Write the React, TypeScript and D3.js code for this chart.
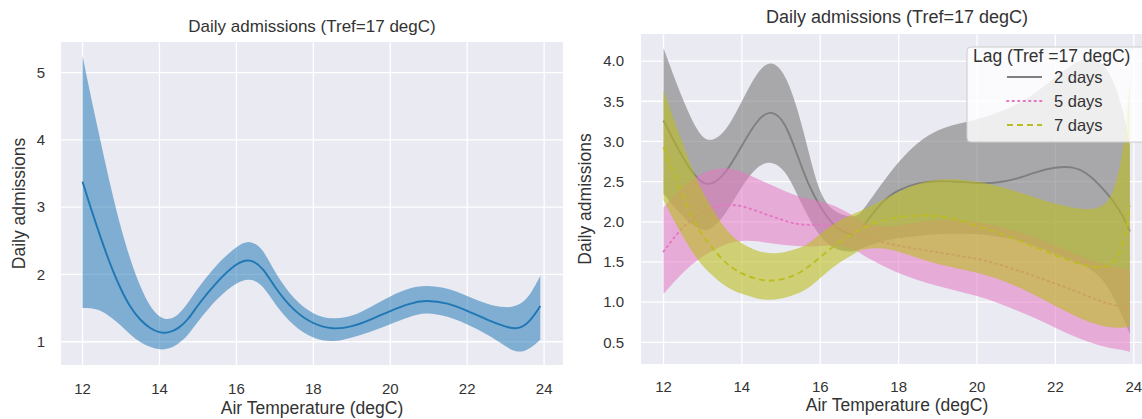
import React from 'react';
import * as d3 from 'd3';

// left panel: all lags pooled
const tempLeft = [12, 12.25, 12.5, 12.75, 13, 13.25, 13.5, 13.75, 14, 14.25, 14.5, 14.75, 15, 15.5, 16, 16.35, 16.7, 17, 17.5, 18, 18.5, 19, 19.5, 20, 20.5, 20.9, 21.5, 22, 22.5, 23, 23.3, 23.6, 23.9];
const admMean = [3.38, 2.92, 2.5, 2.1, 1.77, 1.5, 1.32, 1.2, 1.13, 1.13, 1.2, 1.33, 1.55, 1.9, 2.17, 2.24, 2.1, 1.8, 1.45, 1.26, 1.18, 1.22, 1.33, 1.46, 1.57, 1.62, 1.58, 1.46, 1.33, 1.22, 1.18, 1.27, 1.53];
const admHigh = [5.25, 4.55, 3.9, 3.25, 2.68, 2.2, 1.82, 1.52, 1.36, 1.32, 1.4, 1.58, 1.8, 2.16, 2.42, 2.52, 2.38, 2.02, 1.62, 1.4, 1.33, 1.37, 1.52, 1.68, 1.8, 1.84, 1.8, 1.68, 1.56, 1.5, 1.53, 1.65, 1.98];
const admLow = [1.5, 1.5, 1.46, 1.36, 1.24, 1.1, 0.99, 0.92, 0.88, 0.89, 0.97, 1.1, 1.3, 1.65, 1.88, 1.95, 1.84, 1.55, 1.22, 1.04, 0.99, 1.06, 1.15, 1.26, 1.37, 1.44, 1.38, 1.26, 1.12, 0.93, 0.83, 0.88, 1.03];
const leftTicksY = [1, 2, 3, 4, 5];

// right panel: by lag
const tempRight = [12, 12.5, 12.9, 13.2, 13.6, 14, 14.4, 14.75, 15.1, 15.4, 15.7, 16, 16.4, 16.85, 17.0, 17.1, 17.6, 18, 18.5, 19, 19.5, 20, 20.5, 21, 21.5, 22, 22.4, 22.8, 23.2, 23.5, 23.75, 23.9];
const lag2Mean = [3.26, 2.78, 2.5, 2.44, 2.6, 2.95, 3.28, 3.4, 3.25, 2.85, 2.45, 2.18, 1.9, 1.83, null, 1.95, 2.27, 2.4, 2.49, 2.51, 2.5, 2.48, 2.48, 2.53, 2.62, 2.68, 2.69, 2.62, 2.42, 2.25, 2.05, 1.88];
const lag2High = [4.16, 3.5, 3.08, 2.98, 3.12, 3.5, 3.88, 4.02, 3.85, 3.45, 2.88, 2.3, 2.1, 2.05, 2.1, 2.15, 2.5, 2.75, 3.0, 3.15, 3.22, 3.27, 3.35, 3.45, 3.6, 3.8, 3.95, 4.05, 4.0, 3.75, 3.35, 2.95];
const lag2Low = [2.35, 2.05, 1.9, 1.88, 2.1, 2.45, 2.7, 2.76, 2.65, 2.35, 2.05, 1.8, 1.64, 1.62, 1.66, 1.68, 1.76, 1.8, 1.82, 1.85, 1.85, 1.85, 1.82, 1.78, 1.7, 1.6, 1.52, 1.45, 1.3, 1.05, 0.78, 0.6];
const lag5Mean = [1.63, 1.95, 2.1, 2.17, 2.22, 2.2, 2.13, 2.07, 2.01, 1.97, 1.96, 1.96, 1.95, 1.88, 1.85, 1.82, 1.74, 1.7, 1.66, 1.62, 1.58, 1.54, 1.48, 1.4, 1.32, 1.23, 1.16, 1.08, 1.0, 0.96, 0.93, 0.91];
const lag5High = [2.18, 2.45, 2.58, 2.65, 2.68, 2.63, 2.53, 2.46, 2.38, 2.32, 2.29, 2.25, 2.2, 2.07, 2.02, 1.99, 1.93, 1.95, 2.0, 2.02, 2.02, 2.0, 1.95, 1.88, 1.8, 1.7, 1.62, 1.54, 1.47, 1.44, 1.42, 1.4];
const lag5Low = [1.1, 1.38, 1.54, 1.63, 1.73, 1.77, 1.76, 1.73, 1.71, 1.7, 1.69, 1.7, 1.71, 1.67, 1.62, 1.58, 1.45, 1.36, 1.27, 1.2, 1.14, 1.08, 1.0, 0.9, 0.8, 0.68, 0.59, 0.51, 0.45, 0.42, 0.4, 0.38];
const lag7Mean = [2.93, 2.3, 1.88, 1.7, 1.47, 1.35, 1.28, 1.26, 1.29, 1.34, 1.44, 1.56, 1.72, 1.86, 1.9, 1.93, 2.02, 2.06, 2.08, 2.08, 2.03, 1.95, 1.87, 1.78, 1.68, 1.58, 1.51, 1.45, 1.42, 1.48, 1.7, 2.2];
const lag7High = [3.64, 2.95, 2.45, 2.2, 1.88, 1.72, 1.63, 1.6, 1.62, 1.66, 1.72, 1.85, 2.0, 2.1, 2.13, 2.15, 2.27, 2.38, 2.48, 2.53, 2.53, 2.5, 2.45, 2.38, 2.3, 2.22, 2.18, 2.15, 2.17, 2.35, 2.9, 3.75];
const lag7Low = [2.27, 1.8, 1.5, 1.35, 1.18, 1.1, 1.04, 1.02, 1.05, 1.1, 1.17, 1.3, 1.47, 1.6, 1.64, 1.66, 1.68, 1.63, 1.55, 1.47, 1.42, 1.37, 1.3, 1.2, 1.08, 0.95, 0.85, 0.76, 0.7, 0.68, 0.68, 0.7];
const rightTicksY = [0.5, 1, 1.5, 2, 2.5, 3, 3.5, 4];

const ticksX = [12, 14, 16, 18, 20, 22, 24];
const lagNames = ['2 days', '5 days', '7 days'];
const lagColors = ['#7f7f7f', '#e377c2', '#bcbd22'];
const lagDash = [null, '1.5,4', '6,4'];

const FONT = '"Liberation Sans", Arial, sans-serif';
const TXT = '#333';
const BG = '#eaeaf2';

type Band = {mean: (number | null)[]; low: number[]; high: number[]; color: string; dash: string | null; fillOpacity: number};

function Panel(props: {
  id: string; x0: number; x1: number; y0: number; y1: number;
  xDomain: [number, number]; yDomain: [number, number];
  xs: number[]; bands: Band[]; yTicks: number[]; yFmt: (v: number) => string;
  titleY: number; titleSize: number; tickLabelX: number; yLabelX: number; xTickY: number; xLabelY: number;
}) {
  const {x0, x1, y0, y1} = props;
  const x = d3.scaleLinear().domain(props.xDomain).range([x0, x1]);
  const y = d3.scaleLinear().domain(props.yDomain).range([y1, y0]);
  const curve = d3.curveBasis;
  const cx = (x0 + x1) / 2;
  const cy = (y0 + y1) / 2;

  return (
    <g>
      <defs>
        <clipPath id={props.id}>
          <rect x={x0} y={y0} width={x1 - x0} height={y1 - y0}/>
        </clipPath>
      </defs>
      <rect x={x0} y={y0} width={x1 - x0} height={y1 - y0} fill={BG}/>
      {ticksX.map(t => (
        <line key={'gx' + t} x1={x(t)} x2={x(t)} y1={y0} y2={y1} stroke="#fff" strokeWidth={1.3}/>
      ))}
      {props.yTicks.map(t => (
        <line key={'gy' + t} x1={x0} x2={x1} y1={y(t)} y2={y(t)} stroke="#fff" strokeWidth={1.3}/>
      ))}
      <g clipPath={`url(#${props.id})`}>
        {props.bands.map((b, k) => {
          const area = d3.area<number>()
            .x(i => x(props.xs[i]))
            .y0(i => y(b.low[i]))
            .y1(i => y(b.high[i]))
            .curve(curve);
          const line = d3.line<number>()
            .defined(i => b.mean[i] != null)
            .x(i => x(props.xs[i]))
            .y(i => y(b.mean[i] as number))
            .curve(curve);
          const idx = d3.range(props.xs.length);
          return (
            <g key={k}>
              <path d={area(idx) || ''} fill={b.color} fillOpacity={b.fillOpacity} stroke="none"/>
              <path d={line(idx) || ''} fill="none" stroke={b.color} strokeWidth={1.9}
                    strokeDasharray={b.dash || undefined} strokeLinecap={b.dash === '1.5,4' ? 'round' : 'butt'}/>
            </g>
          );
        })}
      </g>
      {ticksX.map(t => (
        <text key={'tx' + t} x={x(t)} y={props.xTickY} textAnchor="middle" fontSize={15} fill={TXT}>{t}</text>
      ))}
      {props.yTicks.map(t => (
        <text key={'ty' + t} x={props.tickLabelX} y={y(t)} dy="0.35em" textAnchor="end" fontSize={15} fill={TXT}>{props.yFmt(t)}</text>
      ))}
      <text x={cx} y={props.titleY} textAnchor="middle" fontSize={props.titleSize} fill={TXT}>Daily admissions (Tref=17 degC)</text>
      <text x={cx} y={props.xLabelY} textAnchor="middle" fontSize={17.5} fill={TXT}>Air Temperature (degC)</text>
      <text transform={`translate(${props.yLabelX},${cy}) rotate(-90)`} textAnchor="middle" dy="0.35em" fontSize={17.5} fill={TXT}>Daily admissions</text>
    </g>
  );
}

export default function App() {
  const leftBands: Band[] = [
    {mean: admMean, low: admLow, high: admHigh, color: '#1f77b4', dash: null, fillOpacity: 0.52},
  ];
  const rightBands: Band[] = [
    {mean: lag2Mean, low: lag2Low, high: lag2High, color: lagColors[0], dash: lagDash[0], fillOpacity: 0.62},
    {mean: lag5Mean, low: lag5Low, high: lag5High, color: lagColors[1], dash: lagDash[1], fillOpacity: 0.55},
    {mean: lag7Mean, low: lag7Low, high: lag7High, color: lagColors[2], dash: lagDash[2], fillOpacity: 0.6},
  ];

  // legend
  const lgX = 967, lgY = 47;
  return (
    <svg width={1142} height={419} style={{position: 'absolute', left: 0, top: 0, background: '#fff'}}
         fontFamily={FONT}>
      <Panel id="clipL" x0={61} x1={563} y0={42} y1={365}
             xDomain={[11.44, 24.49]} yDomain={[0.654, 5.456]}
             xs={tempLeft} bands={leftBands} yTicks={leftTicksY} yFmt={d3.format('d')}
             titleY={32} titleSize={17} tickLabelX={45} yLabelX={19} xTickY={394} xLabelY={414}/>
      <Panel id="clipR" x0={641} x1={1153} y0={34} y1={364}
             xDomain={[11.426, 24.49]} yDomain={[0.23, 4.337]}
             xs={tempRight} bands={rightBands} yTicks={rightTicksY} yFmt={d3.format('.1f')}
             titleY={23} titleSize={18} tickLabelX={624} yLabelX={585} xTickY={392} xLabelY={411}/>
      <g>
        <rect x={lgX} y={lgY} width={190} height={95} rx={4} fill="#fff" fillOpacity={0.8} stroke="#ccc" strokeWidth={1}/>
        <text x={lgX + 6} y={lgY + 15} fontSize={17.5} fill={TXT}>Lag (Tref =17 degC)</text>
        {lagNames.map((name, i) => {
          const ly = lgY + 30 + i * 24;
          return (
            <g key={name}>
              <line x1={1007} x2={1042} y1={ly} y2={ly} stroke={lagColors[i]} strokeWidth={1.9}
                    strokeDasharray={lagDash[i] || undefined} strokeLinecap={i === 1 ? 'round' : 'butt'}/>
              <text x={1054} y={ly} dy="0.35em" fontSize={16.5} fill={TXT}>{name}</text>
            </g>
          );
        })}
      </g>
    </svg>
  );
}
